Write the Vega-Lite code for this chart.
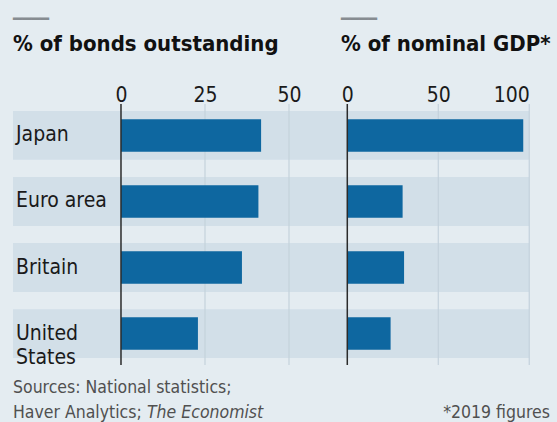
{
  "$schema": "https://vega.github.io/schema/vega-lite/v6.json",
  "padding": {"left": 13, "top": 12, "right": 0, "bottom": 0},
  "background": "#e4ecf1",
  "datasets": {
    "rows": [
      {"label": "Japan", "bonds": 41.7, "gdp": 96.7},
      {"label": "Euro area", "bonds": 40.9, "gdp": 30.4},
      {"label": "Britain", "bonds": 36.0, "gdp": 31.2},
      {"label": "United\nStates", "bonds": 22.9, "gdp": 23.8}
    ]
  },
  "config": {
    "view": {"stroke": null},
    "font": "DejaVu Sans Condensed, Roboto",
    "title": {
      "anchor": "start",
      "frame": "group",
      "font": "DejaVu Sans",
      "fontSize": 15,
      "fontWeight": "normal",
      "color": "#868c91",
      "subtitleFont": "DejaVu Sans Condensed, Roboto",
      "subtitleFontSize": 22,
      "subtitleFontWeight": "bold",
      "subtitleColor": "#111111",
      "subtitlePadding": 7,
      "offset": 29
    },
    "axis": {
      "labelFont": "DejaVu Sans Condensed, Roboto",
      "labelFontSize": 21,
      "labelColor": "#1a1a1a",
      "labelBaseline": "alphabetic",
      "labelPadding": 3,
      "ticks": false,
      "domain": false,
      "grid": false,
      "title": null
    }
  },
  "vconcat": [
    {
      "hconcat": [
        {
          "width": 328,
          "height": 261,
          "title": {"text": "━━━━", "subtitle": "% of bonds outstanding"},
          "data": {"name": "rows"},
          "layer": [
            {
              "mark": {"type": "rect", "color": "#d2dfe8"},
              "encoding": {
                "y": {"field": "label", "type": "nominal", "sort": null, "axis": null, "scale": {"paddingInner": 0.26, "paddingOuter": 0.106}},
                "x": {"datum": -32.14, "type": "quantitative", "title": null, "scale": {"domain": [-32.14, 65.48], "nice": false, "zero": false}, "axis": {"orient": "top", "values": [0, 25, 50]}},
                "x2": {"datum": 65.48}
              }
            },
            {
              "data": {"values": [{"v": 25}, {"v": 50}]},
              "mark": {"type": "rule", "color": "#c4d2dc", "strokeWidth": 1.2},
              "encoding": {"x": {"field": "v", "type": "quantitative", "title": null}}
            },
            {
              "mark": {"type": "bar", "color": "#0e67a0", "height": {"band": 0.667}},
              "encoding": {
                "y": {"field": "label", "type": "nominal", "sort": null, "axis": null},
                "x": {"field": "bonds", "type": "quantitative", "title": null}
              }
            },
            {
              "data": {"values": [{"v": 0}]},
              "mark": {"type": "rule", "color": "#2b2b2b", "strokeWidth": 1.5},
              "encoding": {"x": {"field": "v", "type": "quantitative", "title": null}}
            },
            {
              "mark": {"type": "text", "align": "left", "baseline": "middle", "dx": 3, "fontSize": 21, "color": "#1a1a1a", "lineBreak": "\n", "lineHeight": 24},
              "encoding": {
                "y": {"field": "label", "type": "nominal", "sort": null, "axis": null},
                "x": {"datum": -32.14, "type": "quantitative", "title": null},
                "text": {"field": "label"}
              }
            }
          ]
        },
        {
          "width": 188.8,
          "height": 261,
          "title": {"text": "━━━━", "subtitle": "% of nominal GDP*"},
          "data": {"name": "rows"},
          "layer": [
            {
              "mark": {"type": "rect", "color": "#d2dfe8"},
              "encoding": {
                "y": {"field": "label", "type": "nominal", "sort": null, "axis": null, "scale": {"paddingInner": 0.26, "paddingOuter": 0.106}},
                "x": {"datum": -3.46, "type": "quantitative", "title": null, "scale": {"domain": [-3.46, 100.3], "nice": false, "zero": false}, "axis": {"orient": "top", "values": [0, 50, 100]}},
                "x2": {"datum": 100}
              }
            },
            {
              "data": {"values": [{"v": 50}, {"v": 100}]},
              "mark": {"type": "rule", "color": "#c4d2dc", "strokeWidth": 1.2},
              "encoding": {"x": {"field": "v", "type": "quantitative", "title": null}}
            },
            {
              "mark": {"type": "bar", "color": "#0e67a0", "height": {"band": 0.667}},
              "encoding": {
                "y": {"field": "label", "type": "nominal", "sort": null, "axis": null},
                "x": {"field": "gdp", "type": "quantitative", "title": null}
              }
            },
            {
              "data": {"values": [{"v": 0}]},
              "mark": {"type": "rule", "color": "#2b2b2b", "strokeWidth": 1.5},
              "encoding": {"x": {"field": "v", "type": "quantitative", "title": null}}
            }
          ]
        }
      ],
      "spacing": 0,
      "bounds": "flush"
    },
    {
      "width": 544,
      "height": 54,
      "layer": [
        {
          "data": {"values": [{"t": "Sources: National statistics;"}]},
          "mark": {"type": "text", "align": "left", "baseline": "alphabetic", "fontSize": 17.5, "color": "#505050"},
          "encoding": {"text": {"field": "t"}, "x": {"value": 0}, "y": {"value": 25}}
        },
        {
          "data": {"values": [{"t": "Haver Analytics;"}]},
          "mark": {"type": "text", "align": "left", "baseline": "alphabetic", "fontSize": 17.5, "color": "#505050"},
          "encoding": {"text": {"field": "t"}, "x": {"value": 0}, "y": {"value": 50}}
        },
        {
          "data": {"values": [{"t": "The Economist"}]},
          "mark": {"type": "text", "align": "left", "baseline": "alphabetic", "fontSize": 17.5, "fontStyle": "italic", "color": "#505050"},
          "encoding": {"text": {"field": "t"}, "x": {"value": 134}, "y": {"value": 50}}
        },
        {
          "data": {"values": [{"t": "*2019 figures"}]},
          "mark": {"type": "text", "align": "right", "baseline": "alphabetic", "fontSize": 17.5, "color": "#505050"},
          "encoding": {"text": {"field": "t"}, "x": {"value": 537}, "y": {"value": 50}}
        }
      ]
    }
  ],
  "spacing": 0,
  "bounds": "full"
}
